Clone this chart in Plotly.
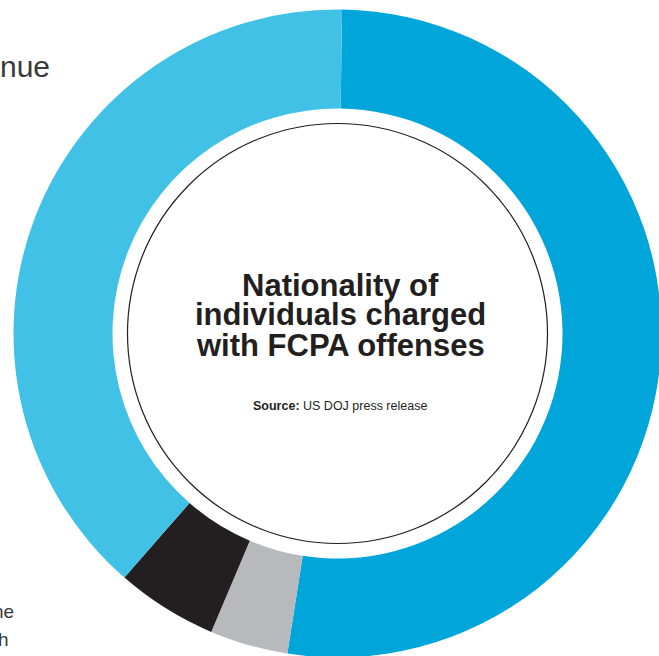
import plotly.graph_objects as go

# Data (share of individuals charged, %), clockwise from 12 o'clock
labels = ["Non-US", "Other", "Unknown", "US"]
values = [52.25, 3.9, 5.05, 38.8]
colors = ["#00A6DA", "#B8B9BC", "#231F20", "#42C1E7"]

title_lines = ["Nationality of", "individuals charged", "with FCPA offenses"]
source_text = "<b>Source:</b> US DOJ press release"

W, H = 700, 700          # figure larger than window: the donut is cropped
CX, CY = 337.5, 333.5    # donut centre in px (from top-left)
R_OUT = 324.0
R_IN = 225.0
R_RING = 210.0

def px(x):
    return x / W

def py(y):
    return 1 - y / H

fig = go.Figure()
fig.add_trace(go.Pie(
    labels=labels, values=values,
    marker=dict(colors=colors, line=dict(color="white", width=0)),
    sort=False, direction="clockwise", rotation=0.8,
    hole=R_IN / R_OUT, textinfo="none", hoverinfo="label+percent",
    showlegend=False,
    domain=dict(x=[px(CX - R_OUT), px(CX + R_OUT)],
                y=[py(CY + R_OUT), py(CY - R_OUT)]),
))

fig.add_shape(type="circle", xref="paper", yref="paper",
              x0=px(CX - R_RING), x1=px(CX + R_RING),
              y0=py(CY + R_RING), y1=py(CY - R_RING),
              line=dict(color="#231F20", width=1.2), fillcolor="rgba(0,0,0,0)")

title_y = [285, 315, 346]
for t, y in zip(title_lines, title_y):
    fig.add_annotation(text=f"<b>{t}</b>", x=px(CX + 3), y=py(y), xref="paper", yref="paper",
                       xanchor="center", yanchor="middle", showarrow=False,
                       font=dict(family="Liberation Sans, Arial, sans-serif", size=31, color="#231F20"))

fig.add_annotation(text=source_text, x=px(CX + 2), y=py(406), xref="paper", yref="paper",
                   xanchor="center", yanchor="middle", showarrow=False,
                   font=dict(family="Liberation Sans, Arial, sans-serif", size=12.5, color="#231F20"))

# cropped fragments of neighbouring text
frag_font = dict(family="Liberation Sans, Arial, sans-serif", color="#3a3a3a")
fig.add_annotation(text="nue", x=px(52), y=py(66), xref="paper", yref="paper",
                   xanchor="right", yanchor="middle", showarrow=False,
                   font=dict(size=30, **frag_font))
fig.add_annotation(text="ne", x=px(16), y=py(611), xref="paper", yref="paper",
                   xanchor="right", yanchor="middle", showarrow=False,
                   font=dict(size=19, **frag_font))
fig.add_annotation(text="h", x=px(11), y=py(639), xref="paper", yref="paper",
                   xanchor="right", yanchor="middle", showarrow=False,
                   font=dict(size=19, **frag_font))

fig.update_layout(width=W, height=H, margin=dict(l=0, r=0, t=0, b=0),
                  paper_bgcolor="white", plot_bgcolor="white")

# remove the page's default body margin and scrollbars so the cropped donut sits flush
page_css = ("document.body.style.margin='0';"
            "document.body.style.overflow='hidden';"
            "document.documentElement.style.overflow='hidden';")
fig.write_html("out.html", post_script=page_css, config={"displayModeBar": False})
